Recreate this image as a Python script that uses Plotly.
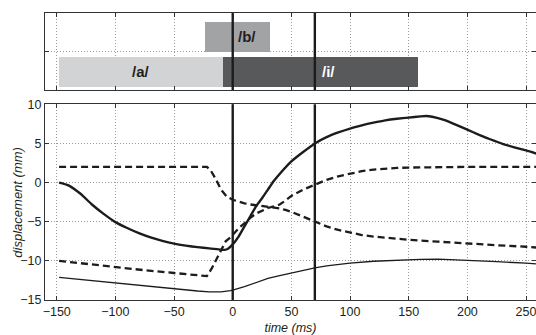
import plotly.graph_objects as go

# ---------------- data ----------------
# curve A: thick solid
a_t = [-148, -140, -130, -120, -110, -100, -90, -80, -70, -60, -50, -40, -30, -20, -10, -7, -4, 0,
       5, 10, 15, 20, 25, 30, 35, 40, 50, 60, 70, 80, 90, 100, 110, 120, 130, 140, 150, 160, 165,
       170, 180, 190, 200, 210, 220, 230, 240, 250, 259]
a_v = [0.0, -0.35, -1.4, -2.8, -4.0, -5.05, -5.8, -6.45, -7.0, -7.45, -7.8, -8.05, -8.25, -8.4, -8.58, -8.6, -8.45, -7.9,
       -6.9, -5.6, -4.3, -3.0, -2.0, -0.9, 0.2, 1.1, 2.7, 3.9, 5.0, 5.8, 6.4, 6.9, 7.3, 7.65, 7.95, 8.15, 8.3, 8.45, 8.5,
       8.4, 8.0, 7.4, 6.75, 6.1, 5.5, 4.95, 4.5, 4.1, 3.7]

# curve B: dashed, starting at +2
b_t = [-148, -22, -19, -15, -10, -5, 0, 5, 10, 15, 20, 25, 30, 35, 40, 45, 50, 60, 70, 80, 90, 100,
       110, 120, 130, 140, 150, 175, 200, 225, 250, 259]
b_v = [2.0, 2.0, 1.6, 0.6, -0.9, -1.8, -2.2, -2.45, -2.65, -2.8, -2.9, -3.0, -3.05, -3.15, -3.3, -3.5, -3.75,
       -4.35, -5.0, -5.6, -6.05, -6.4, -6.7, -6.9, -7.05, -7.2, -7.3, -7.55, -7.8, -8.0, -8.2, -8.3]

# curve C: dashed, starting at -10
c_t = [-148, -125, -100, -75, -50, -35, -22, -18, -14, -10, -6, -2, 2, 6, 10, 15, 20, 25, 30, 35, 40, 45,
       50, 60, 70, 80, 90, 100, 110, 120, 130, 140, 150, 170, 200, 259]
c_v = [-10.0, -10.4, -10.85, -11.2, -11.55, -11.75, -11.95, -11.0, -9.8, -8.5, -7.5, -7.0, -6.3, -5.7, -5.2,
       -4.5, -3.95, -3.55, -3.25, -3.05, -2.8, -2.3, -1.7, -0.9, -0.25, 0.35, 0.8, 1.15, 1.45, 1.65, 1.78,
       1.87, 1.92, 1.97, 2.0, 2.0]

# curve D: thin solid
d_t = [-148, -125, -100, -75, -50, -30, -20, -10, -2, 0, 10, 20, 30, 40, 50, 60, 70, 80, 90, 100, 120,
       140, 160, 175, 200, 225, 250, 259]
d_v = [-12.1, -12.45, -12.8, -13.2, -13.55, -13.85, -13.95, -13.95, -13.8, -13.75, -13.3, -12.75, -12.25,
       -11.9, -11.55, -11.2, -10.9, -10.65, -10.45, -10.3, -10.05, -9.9, -9.8, -9.78, -9.9, -10.1, -10.3, -10.4]

# segments (top panel)
seg_labels = ["/a/", "/i/", "/b/"]
seg_start = [-148, -8, -24]
seg_end = [-8, 158, 32]
seg_low = [0.09, 0.09, 1.0]
seg_high = [0.87, 0.87, 1.77]
seg_label_t = [-78, 82, 12]
seg_colors = ["#d2d3d4", "#58595b", "#a2a3a5"]
seg_text_colors = ["#231f20", "#ffffff", "#231f20"]

event_t = [0, 70]

x_ticks = [-150, -100, -50, 0, 50, 100, 150, 200, 250]
y_ticks = [-15, -10, -5, 0, 5, 10]

# ---------------- figure ----------------
fig = go.Figure()
ink = "#1c1c1c"

fig.add_trace(go.Scatter(x=a_t, y=a_v, mode="lines", line=dict(color=ink, width=2.4, shape="spline", smoothing=0.6),
                         xaxis="x", yaxis="y", showlegend=False))
fig.add_trace(go.Scatter(x=b_t, y=b_v, mode="lines", line=dict(color=ink, width=2.3, dash="7px,4px"),
                         xaxis="x", yaxis="y", showlegend=False))
fig.add_trace(go.Scatter(x=c_t, y=c_v, mode="lines", line=dict(color=ink, width=2.3, dash="7px,4px"),
                         xaxis="x", yaxis="y", showlegend=False))
fig.add_trace(go.Scatter(x=d_t, y=d_v, mode="lines", line=dict(color=ink, width=1.3),
                         xaxis="x", yaxis="y", showlegend=False))

for lab, s, e, lo, hi, col in zip(seg_labels, seg_start, seg_end, seg_low, seg_high, seg_colors):
    fig.add_trace(go.Bar(x=[e - s], base=[s], y=[(lo + hi) / 2], width=[hi - lo], orientation="h",
                         marker=dict(color=col, line=dict(width=0)), xaxis="x2", yaxis="y2",
                         showlegend=False, hoverinfo="skip"))

for lab, lt, lo, hi, tc in zip(seg_labels, seg_label_t, seg_low, seg_high, seg_text_colors):
    fig.add_annotation(x=lt, y=(lo + hi) / 2, xref="x2", yref="y2", text="<b>" + lab + "</b>",
                       showarrow=False, font=dict(family="Liberation Sans, Arial", size=15, color=tc))

for et in event_t:
    for yr in ["y", "y2"]:
        fig.add_shape(type="line", x0=et, x1=et, y0=0, y1=1, xref="x" if yr == "y" else "x2",
                      yref=yr + " domain", line=dict(color=ink, width=2.4), layer="above")

# y axis title placed as a rotated annotation so it sits close to the tick labels
fig.add_annotation(x=0, y=0.341, xref="paper", yref="paper", xanchor="center", yanchor="middle",
                   xshift=-27.5, textangle=-90, showarrow=False, text="<i>displacement (mm)</i>",
                   font=dict(family="Liberation Sans, Arial", size=13, color="#231f20"))

axis_common = dict(showline=True, linecolor="#333333", linewidth=1, mirror="ticks", ticks="inside",
                   ticklen=4, tickcolor="#333333", showgrid=True, gridcolor="#9a9a9a", griddash="1px,2px",
                   gridwidth=1, zeroline=False, automargin=False)

fig.update_layout(
    width=536, height=335,
    margin=dict(l=45, r=0, t=13, b=35),
    paper_bgcolor="white", plot_bgcolor="white",
    barmode="overlay", bargap=0,
    font=dict(family="Liberation Sans, Arial", size=12.5, color="#231f20"),
    xaxis=dict(range=[-160, 258.5], tickvals=x_ticks, domain=[0, 1], anchor="y", ticklabeloverflow="allow",
               title=dict(text="<i>time (ms)</i>", standoff=5, font=dict(size=12.5)), **axis_common),
    yaxis=dict(range=[-15, 10], tickvals=y_ticks, domain=[0, 0.682], anchor="x", **axis_common),
    xaxis2=dict(range=[-160, 258.5], tickvals=x_ticks, showticklabels=False, domain=[0, 1], anchor="y2",
                **axis_common),
    yaxis2=dict(range=[0, 2], tickvals=[1], showticklabels=False, domain=[0.7317, 1], anchor="x2",
                **axis_common),
)

fig.write_html("out.html", config={"displayModeBar": False, "staticPlot": True},
               post_script="document.body.style.margin='0px';document.body.style.overflow='hidden';")
